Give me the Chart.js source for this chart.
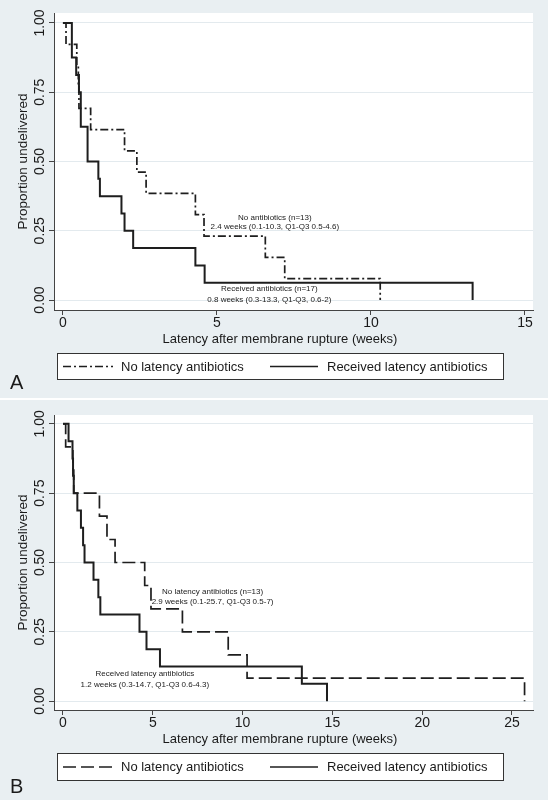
<!DOCTYPE html>
<html>
<head>
<meta charset="utf-8">
<script src="https://cdn.jsdelivr.net/npm/chart.js@4.4.1/dist/chart.umd.min.js"></script>
<style>
  body { margin: 0; background: #fff; }
  canvas { display: block; }
  #panelB { margin-top: 2px; }
</style>
</head>
<body>
<canvas id="panelA" width="548" height="398"></canvas>
<canvas id="panelB" width="548" height="400"></canvas>
<script>
// panel A : latency (weeks) and proportion undelivered
const weeksA_none = [0, 0.1, 0.45, 0.5, 0.52, 0.9, 2.0, 2.4, 2.7, 4.3, 4.58, 6.57, 7.2, 10.3];
const survA_none  = [1, 0.923, 0.846, 0.769, 0.692, 0.615, 0.538, 0.462, 0.385, 0.308, 0.231, 0.154, 0.077, 0];
const weeksA_rec  = [0, 0.29, 0.43, 0.52, 0.58, 0.8, 1.15, 1.2, 1.9, 2.0, 2.28, 4.3, 4.6, 13.3];
const survA_rec   = [1, 0.875, 0.8125, 0.75, 0.625, 0.5, 0.4375, 0.375, 0.3125, 0.25, 0.1875, 0.125, 0.0625, 0];

// panel B
const weeksB_none = [0, 0.15, 0.55, 0.6, 2.03, 2.45, 2.9, 4.55, 4.9, 6.65, 9.2, 10.25, 25.7];
const survB_none  = [1, 0.917, 0.833, 0.75, 0.667, 0.583, 0.5, 0.417, 0.333, 0.25, 0.167, 0.083, 0];
const weeksB_rec  = [0, 0.31, 0.53, 0.56, 0.6, 0.8, 1.0, 1.12, 1.2, 1.7, 1.97, 2.08, 4.26, 4.65, 5.4, 13.3, 14.7];
const survB_rec   = [1, 0.9375, 0.875, 0.8125, 0.75, 0.6875, 0.625, 0.5625, 0.5, 0.4375, 0.375, 0.3125, 0.25, 0.1875, 0.125, 0.0625, 0];

const seriesNames = ['No latency antibiotics', 'Received latency antibiotics'];
const yTicks  = [0, 0.25, 0.5, 0.75, 1];
const yLabels = ['0.00', '0.25', '0.50', '0.75', '1.00'];
const xTicksA = [0, 5, 10, 15];
const xTicksB = [0, 5, 10, 15, 20, 25];
const xTitle = 'Latency after membrane rupture (weeks)';

const notesA = [
  { x: 6.88, y: 0.296, text: 'No antibiotics (n=13)' },
  { x: 6.88, y: 0.265, text: '2.4 weeks (0.1-10.3, Q1-Q3 0.5-4.6)' },
  { x: 6.7,  y: 0.04,  text: 'Received antibiotics (n=17)' },
  { x: 6.7,  y: 0.0,   text: '0.8 weeks (0.3-13.3, Q1-Q3, 0.6-2)' }
];
const notesB = [
  { x: 8.33, y: 0.393, text: 'No latency antibiotics (n=13)' },
  { x: 8.33, y: 0.357, text: '2.9 weeks (0.1-25.7, Q1-Q3 0.5-7)' },
  { x: 4.56, y: 0.097, text: 'Received latency antibiotics' },
  { x: 4.56, y: 0.058, text: '1.2 weeks (0.3-14.7, Q1-Q3 0.6-4.3)' }
];

const FONT = '"Liberation Sans", Arial, Helvetica, sans-serif';
const INK = '#1a1a1a';
const PANEL_BG = '#e9eff2';

function pts(xs, ys) { return xs.map((x, i) => ({ x: x, y: ys[i] })); }

// background, rotated y labels, x title, notes, framed legend, panel letter
const panelPlugin = {
  id: 'panel',
  beforeDraw(chart) {
    const { ctx, chartArea: a } = chart;
    ctx.save();
    ctx.fillStyle = PANEL_BG;
    ctx.fillRect(0, 0, chart.width, chart.height);
    ctx.fillStyle = '#fff';
    ctx.fillRect(a.left, a.top, a.right - a.left, a.bottom - a.top);
    ctx.restore();
  },
  afterDraw(chart, args, opts) {
    const ctx = chart.ctx;
    const xs = chart.scales.x, ys = chart.scales.y;
    ctx.save();
    ctx.fillStyle = INK;

    // y tick labels, reading bottom to top
    ctx.font = '14px ' + FONT;
    ctx.textAlign = 'center';
    ctx.textBaseline = 'middle';
    yTicks.forEach((v, i) => {
      ctx.save();
      ctx.translate(40, ys.getPixelForValue(v));
      ctx.rotate(-Math.PI / 2);
      ctx.fillText(yLabels[i], 0, 0);
      ctx.restore();
    });

    // x title is centred on the whole graph, not on the plot region
    ctx.font = '13px ' + FONT;
    ctx.fillText(xTitle, 280, xs.bottom - 15);

    // median notes
    ctx.font = '8px ' + FONT;
    opts.notes.forEach(n => {
      ctx.fillText(n.text, xs.getPixelForValue(n.x), ys.getPixelForValue(n.y));
    });

    // legend box
    const L = opts.legend;
    ctx.fillStyle = '#fff';
    ctx.fillRect(L.left, L.top, L.width, L.height);
    ctx.strokeStyle = '#333';
    ctx.lineWidth = 1;
    ctx.strokeRect(L.left + 0.5, L.top + 0.5, L.width - 1, L.height - 1);
    const midY = L.top + L.height / 2;
    ctx.font = '13px ' + FONT;
    ctx.textAlign = 'left';
    chart.data.datasets.forEach((ds, i) => {
      const s = L.items[i];
      ctx.save();
      ctx.strokeStyle = ds.borderColor;
      ctx.lineWidth = 1.5;
      ctx.setLineDash(ds.borderDash || []);
      ctx.beginPath();
      ctx.moveTo(s.from, midY);
      ctx.lineTo(s.to, midY);
      ctx.stroke();
      ctx.restore();
      ctx.fillStyle = INK;
      ctx.fillText(ds.label, s.text, midY + 0.5);
    });

    // panel letter
    ctx.font = '20px ' + FONT;
    ctx.fillText(opts.letter, 10, opts.letterY);
    ctx.restore();
  }
};

function makeChart(id, cfg) {
  return new Chart(document.getElementById(id), {
    type: 'line',
    data: {
      datasets: [
        { label: seriesNames[0], data: pts(cfg.noneX, cfg.noneY), borderColor: '#1e1e1e', borderWidth: 1.7, borderDash: cfg.dash, stepped: 'before', pointRadius: 0, fill: false },
        { label: seriesNames[1], data: pts(cfg.recX, cfg.recY), borderColor: '#1e1e1e', borderWidth: 2, stepped: 'before', pointRadius: 0, fill: false }
      ]
    },
    options: {
      responsive: false,
      animation: false,
      layout: { padding: { left: 0, top: cfg.padTop, right: 15, bottom: cfg.padBottom } },
      scales: {
        x: {
          type: 'linear', min: cfg.xMin, max: cfg.xMax,
          afterBuildTicks: s => { s.ticks = cfg.xTicks.map(v => ({ value: v })); },
          afterFit: s => { s.height = 44; },
          ticks: { font: { family: FONT, size: 14 }, color: INK, padding: 0, maxRotation: 0, autoSkip: false },
          grid: { drawOnChartArea: false, tickLength: 5, color: '#444' },
          border: { color: '#444', width: 1 },
          title: { display: false }
        },
        y: {
          type: 'linear', min: cfg.yMin, max: cfg.yMax,
          afterBuildTicks: s => { s.ticks = yTicks.map(v => ({ value: v })); },
          afterFit: s => { s.width = 54; },
          ticks: { display: false },
          grid: { color: '#e3eaee', tickColor: '#444', tickLength: 5 },
          border: { color: '#444', width: 1 },
          title: { display: true, text: 'Proportion undelivered', color: INK, font: { family: FONT, size: 13.5 }, padding: { top: 15, bottom: 0 } }
        }
      },
      plugins: {
        legend: { display: false },
        tooltip: { enabled: false },
        panel: {
          notes: cfg.notes,
          letter: cfg.letter,
          letterY: cfg.letterY,
          legend: {
            left: 57, top: 353, width: 447, height: cfg.legendH,
            items: [ { from: 63, to: 113, text: 121 }, { from: 270, to: 318, text: 327 } ]
          }
        }
      }
    },
    plugins: [panelPlugin]
  });
}

makeChart('panelA', {
  noneX: weeksA_none, noneY: survA_none, recX: weeksA_rec, recY: survA_rec,
  dash: [8, 3, 2, 3], xTicks: xTicksA, xMin: -0.29, xMax: 15.26,
  yMin: -0.036, yMax: 1.036, padTop: 13, padBottom: 44,
  notes: notesA, letter: 'A', letterY: 383, legendH: 27
});

makeChart('panelB', {
  noneX: weeksB_none, noneY: survB_none, recX: weeksB_rec, recY: survB_rec,
  dash: [13, 5], xTicks: xTicksB, xMin: -0.5, xMax: 26.17,
  yMin: -0.032, yMax: 1.032, padTop: 15, padBottom: 46,
  notes: notesB, letter: 'B', letterY: 387, legendH: 28
});
</script>
</body>
</html>
